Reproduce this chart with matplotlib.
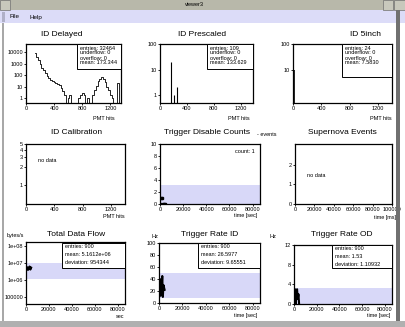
import matplotlib
matplotlib.use("Agg")
import matplotlib.pyplot as plt
from matplotlib.patches import Rectangle
import numpy as np

plt.rcParams['font.family'] = ['Liberation Sans', 'DejaVu Sans']

W, H = 405, 327

# ---- data ----
delayed_x = [130, 155, 180, 205, 230, 255, 280, 305, 330, 355, 380, 405, 430, 455, 480, 505,
             530, 555, 580, 605, 630, 655, 680, 705, 730, 755, 780, 805, 830, 855, 880, 905,
             930, 955, 980, 1005, 1030, 1055, 1080, 1105, 1130, 1155, 1180, 1205, 1230, 1255,
             1280, 1305, 1330]
delayed_y = [8200, 4000, 2000, 900, 450, 250, 140, 90, 55, 40, 30, 26, 22, 18, 13, 8,
             4, 2, 0, 1, 2, 0, 0, 0, 0, 1, 2, 3, 2, 0, 1, 0,
             0, 2, 5, 12, 28, 48, 62, 45, 25, 10, 5, 2, 1, 0,
             0, 20, 0]
delayed_stats = ["entries: 32464", "underflow: 0", "overflow: 0", "mean: 173.344"]

prescaled_x = [160, 215, 245]
prescaled_y = [20, 1, 2]
prescaled_stats = ["entries: 109", "underflow: 0", "overflow: 0", "mean: 133.629"]

inch5_x = [5, 15]
inch5_y = [24, 10]
inch5_stats = ["entries: 24", "underflow: 0", "overflow: 0", "mean: 7.5830"]

disable_t = [400, 1200, 2000, 2800, 3600, 4400]
disable_n = [0, 1, 1, 0, 0, 0]

flow_t = [300, 1000, 1700, 2400, 3100, 3800, 4500]
flow_r = [4.5e6, 5.5e6, 3.8e6, 5.0e6, 6.0e6, 4.0e6, 5.2e6]
flow_stats = ["entries: 900", "mean: 5.1612e+06", "deviation: 954344"]

rid_t = [300, 800, 1300, 1800, 2300, 2800, 3300, 3800, 4300, 4800]
rid_r = [20, 40, 12, 35, 28, 45, 10, 30, 26, 22]
rid_stats = ["entries: 900", "mean: 26.5977", "deviation: 9.65551"]

rod_t = [300, 900, 1500, 2100, 2700, 3300, 3900, 4500]
rod_r = [1, 3, 0, 2, 3, 1, 2, 0]
rod_stats = ["entries: 900", "mean: 1.53", "deviation: 1.10932"]

band = '#d8d8f8'

fig = plt.figure(figsize=(W / 100, H / 100), dpi=100)
fig.patch.set_facecolor('white')


def fx(x):
    return x / W


def fy(y):
    return 1 - y / H


def px_axes(l, t, r, b):
    ax = fig.add_axes([l / W, 1 - b / H, (r - l) / W, (b - t) / H])
    for s in ax.spines.values():
        s.set_linewidth(0.9)
    ax.tick_params(labelsize=4, length=1.5, width=0.6, pad=0.6, direction='out')
    ax.minorticks_off()
    return ax


def rect(x0, y0, x1, y1, color, ec='none', lw=0):
    fig.add_artist(Rectangle((fx(x0), fy(y1)), (x1 - x0) / W, (y1 - y0) / H,
                             transform=fig.transFigure, facecolor=color,
                             edgecolor=ec, linewidth=lw))


def stats(ax, lines, x0, y0, x1, y1, step):
    rect(x0, y0, x1, y1, 'white', ec='black', lw=0.7)
    for i, s in enumerate(lines):
        fig.text(fx(x0 + 3), fy(y0 + 4 + i * step), s, fontsize=4, va='center')


def title(x, y, s):
    fig.text(fx(x), fy(y), s, fontsize=6, ha='center', va='center')


def label(x, y, s):
    fig.text(fx(x), fy(y), s, fontsize=4, ha='right', va='center')


# ---- window chrome ----
rect(0, 0, 405, 10, '#b8b8aa')
rect(0, 10, 405, 23, '#dcdcf8')
rect(0, 0, 10, 10, '#c8c8bc', ec='#707070', lw=0.5)
rect(383, 0, 393, 10, '#c8c8bc', ec='#707070', lw=0.5)
rect(394, 0, 405, 10, '#c8c8bc', ec='#707070', lw=0.5)
fig.text(fx(194), fy(5), "viewer3", fontsize=4, ha='center', va='center')
fig.text(fx(10), fy(17), "File", fontsize=4.5, va='center')
fig.text(fx(29), fy(17), "Help", fontsize=4.5, va='center')
rect(2, 12, 5, 22, '#b0b0c8')
rect(2, 23, 3.5, 322, '#a8a8a8')
rect(396, 10, 400, 327, '#707070')
rect(0, 321, 405, 327, '#b0b0b0')

# ---- ID Delayed ----
ax = px_axes(26, 44, 121, 103)
ax.set_yscale('log')
ax.step(delayed_x, delayed_y, where='mid', color='black', lw=0.6)
ax.set_xlim(0, 1350)
ax.set_ylim(0.37, 5e4)
ax.set_xticks([0, 400, 800, 1200])
ax.set_yticks([1, 10, 100, 1000, 10000])
ax.set_yticklabels(["1", "10", "100", "1000", "10000"])
ax.minorticks_off()
title(62, 34, "ID Delayed")
label(115, 118, "PMT hits")
stats(ax, delayed_stats, 77, 44, 121, 69, 5)

# ---- ID Prescaled ----
ax = px_axes(160, 44, 253, 103)
ax.set_yscale('log')
ax.vlines(prescaled_x, 0.49, prescaled_y, color='black', lw=0.8)
ax.set_xlim(0, 1380)
ax.set_ylim(0.49, 100)
ax.set_xticks([0, 400, 800, 1200])
ax.set_yticks([1, 10, 100])
ax.set_yticklabels(["1", "10", "100"])
ax.minorticks_off()
title(202, 34, "ID Prescaled")
label(250, 118, "PMT hits")
stats(ax, prescaled_stats, 207, 44, 253, 69, 5)

# ---- ID 5inch ----
ax = px_axes(293, 44, 392, 103)
ax.set_yscale('log')
ax.vlines(inch5_x, 0.54, inch5_y, color='black', lw=1.2)
ax.set_xlim(0, 1400)
ax.set_ylim(0.54, 100)
ax.set_xticks([0, 400, 800, 1200])
ax.set_yticks([10, 100])
ax.set_yticklabels(["10", "100"])
ax.minorticks_off()
title(366, 34, "ID 5inch")
label(392, 118, "PMT hits")
stats(ax, inch5_stats, 342, 44, 392, 77, 5)

# ---- ID Calibration ----
ax = px_axes(26, 144, 125, 204)
ax.set_yscale('log')
ax.set_xlim(0, 1400)
ax.set_ylim(0.47, 5)
ax.set_xticks([0, 400, 800, 1200])
ax.set_yticks([1, 2, 3, 4, 5])
ax.set_yticklabels(["1", "2", "3", "4", "5"])
ax.minorticks_off()
ax.text(0.12, 0.7, "no data", transform=ax.transAxes, fontsize=4)
title(77, 133, "ID Calibration")
label(125, 216, "PMT hits")

# ---- Trigger Disable Counts ----
ax = px_axes(160, 144, 260, 204)
ax.axhspan(0, 3.2, color=band, lw=0)
ax.plot(disable_t, disable_n, 's', color='black', ms=1.8)
ax.set_xlim(0, 86400)
ax.set_ylim(0, 10)
ax.set_xticks([0, 20000, 40000, 60000, 80000])
ax.set_yticks([0, 2, 4, 6, 8, 10])
ax.text(0.95, 0.92, "count: 1", transform=ax.transAxes, fontsize=4, ha='right', va='top')
title(207, 133, "Trigger Disable Counts")
label(257, 216, "time [sec]")
fig.text(fx(257), fy(135), "- events", fontsize=4, va='center')

# ---- Supernova Events ----
ax = px_axes(295, 144, 392, 204)
ax.set_xlim(0, 100000)
ax.set_ylim(0, 3.05)
ax.set_xticks([0, 20000, 40000, 60000, 80000, 100000])
ax.set_yticks([0, 1, 2])
ax.text(0.12, 0.45, "no data", transform=ax.transAxes, fontsize=4)
title(342, 133, "Supernova Events")
label(396, 217, "time [ms]")

# ---- Total Data Flow ----
ax = px_axes(26, 242, 125, 304)
ax.set_yscale('log')
ax.axhspan(1.1e6, 1e7, color=band, lw=0)
ax.plot(flow_t, flow_r, color='black', lw=1.5)
ax.set_xlim(0, 86400)
ax.set_ylim(4e4, 1.6e8)
ax.set_xticks([0, 20000, 40000, 60000, 80000])
ax.set_yticks([1e5, 1e6, 1e7, 1e8])
ax.set_yticklabels(["100000", "1e+06", "1e+07", "1e+08"])
ax.minorticks_off()
title(76, 235, "Total Data Flow")
fig.text(fx(7), fy(236), "bytes/s", fontsize=4, va='center')
label(124, 316, "sec")
stats(ax, flow_stats, 62, 243, 125, 268, 7.5)

# ---- Trigger Rate ID ----
ax = px_axes(159, 243, 260, 303)
ax.axhspan(8, 50, color=band, lw=0)
ax.plot(rid_t, rid_r, color='black', lw=1.5)
ax.set_xlim(0, 86400)
ax.set_ylim(0, 100)
ax.set_xticks([0, 20000, 40000, 60000, 80000])
ax.set_yticks([0, 20, 40, 60, 80, 100])
title(210, 235, "Trigger Rate ID")
fig.text(fx(151), fy(236), "Hz", fontsize=4, va='center')
label(257, 316, "time [sec]")
stats(ax, rid_stats, 198, 243, 260, 268, 7.5)

# ---- Trigger Rate OD ----
ax = px_axes(294, 245, 392, 304)
ax.axhspan(0, 3.3, color=band, lw=0)
ax.plot(rod_t, rod_r, color='black', lw=1.5)
ax.set_xlim(0, 86400)
ax.set_ylim(0, 12)
ax.set_xticks([0, 20000, 40000, 60000, 80000])
ax.set_yticks([0, 4, 8, 12])
title(342, 235, "Trigger Rate OD")
fig.text(fx(270), fy(236), "Hz", fontsize=4, va='center')
label(390, 316, "time [sec]")
stats(ax, rod_stats, 332, 245, 392, 268, 7.5)

fig.savefig("out.png", dpi=100)
